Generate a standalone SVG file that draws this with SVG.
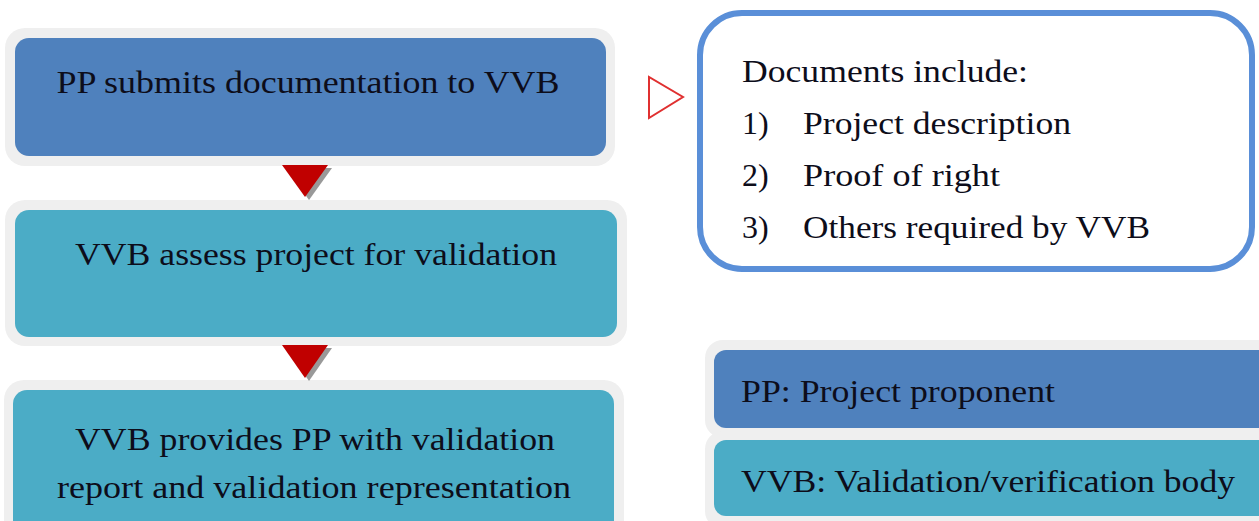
<svg xmlns="http://www.w3.org/2000/svg" width="1259" height="521" viewBox="0 0 1259 521">
<defs>
<style>
.halo{fill:#efefef}
.blue{fill:#4f81bd}
.teal{fill:#4bacc6}
.t{font-family:"Liberation Serif","Times New Roman",serif;font-size:32px;fill:#0d0d1a}
.tc{text-anchor:middle}
.arrow{fill:#c00000}
.shadow{fill:#7f7f7f;opacity:0.8}
</style>
</defs>
<rect width="1259" height="521" fill="#ffffff"/>
<g id="node-submit">
<rect class="halo" x="5" y="28" width="610" height="138" rx="20"/>
<rect class="blue" x="15" y="38" width="591" height="118" rx="14"/>
<text class="t tc" x="308" y="93" textLength="503" lengthAdjust="spacingAndGlyphs">PP submits documentation to VVB</text>
</g>
<g id="node-assess">
<rect class="halo" x="5" y="200" width="622" height="146" rx="20"/>
<rect class="teal" x="15" y="210" width="602" height="127" rx="14"/>
<text class="t tc" x="316" y="265" textLength="482" lengthAdjust="spacingAndGlyphs">VVB assess project for validation</text>
</g>
<g id="node-report">
<rect class="halo" x="4" y="380" width="620" height="160" rx="20"/>
<rect class="teal" x="13" y="390" width="601" height="150" rx="14"/>
<text class="t tc" x="315" y="450" textLength="480" lengthAdjust="spacingAndGlyphs">VVB provides PP with validation</text>
<text class="t tc" x="314" y="498" textLength="514" lengthAdjust="spacingAndGlyphs">report and validation representation</text>
</g>
<g id="connectors">
<polygon class="shadow" points="286,168 332,168 309,200"/>
<polygon class="arrow" points="282,165 328,165 305,197"/>
<polygon class="shadow" points="286,348 332,348 309,381"/>
<polygon class="arrow" points="282,345 328,345 305,378"/>
<polygon points="649,77 649,118 683,97" fill="#ffffff" stroke="#e03030" stroke-width="2"/>
</g>
<g id="node-documents">
<rect x="700" y="13" width="552" height="256" rx="42" fill="#ffffff" stroke="#5a8fd8" stroke-width="6"/>
<text class="t" x="742" y="82" textLength="286" lengthAdjust="spacingAndGlyphs">Documents include:</text>
<text class="t" x="742" y="134">1)</text>
<text class="t" x="803" y="134" textLength="268" lengthAdjust="spacingAndGlyphs">Project description</text>
<text class="t" x="742" y="186">2)</text>
<text class="t" x="803" y="186" textLength="197" lengthAdjust="spacingAndGlyphs">Proof of right</text>
<text class="t" x="742" y="238">3)</text>
<text class="t" x="803" y="238" textLength="347" lengthAdjust="spacingAndGlyphs">Others required by VVB</text>
</g>
<g id="legend-pp">
<rect class="halo" x="705" y="340" width="570" height="98" rx="18"/>
<rect class="blue" x="714" y="350" width="560" height="78" rx="12"/>
<text class="t" x="741" y="402" textLength="314" lengthAdjust="spacingAndGlyphs">PP: Project proponent</text>
</g>
<g id="legend-vvb">
<rect class="halo" x="705" y="431" width="570" height="98" rx="18"/>
<rect class="teal" x="714" y="440" width="560" height="76" rx="12"/>
<text class="t" x="741" y="492" textLength="494" lengthAdjust="spacingAndGlyphs">VVB: Validation/verification body</text>
</g>
</svg>
